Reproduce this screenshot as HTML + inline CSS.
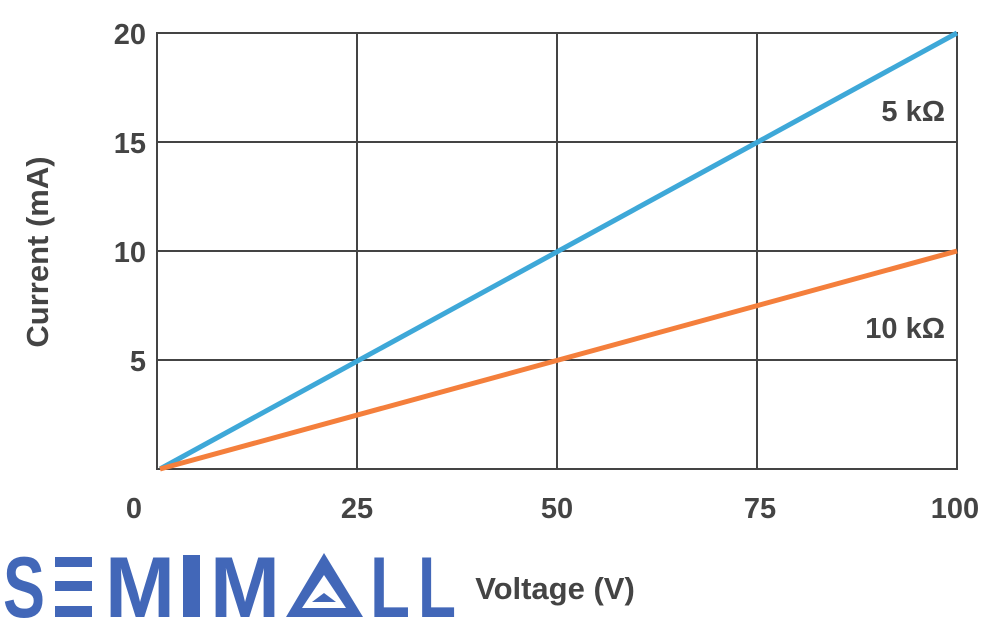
<!DOCTYPE html><html><head><style>body{margin:0;background:#fff}</style></head><body>
<svg width="1000" height="620" xmlns="http://www.w3.org/2000/svg" font-family="Liberation Sans, sans-serif" font-weight="bold">
<g stroke="#444" stroke-width="2" fill="none">
<rect x="157" y="33" width="800" height="436"/>
<line x1="357" y1="33" x2="357" y2="469"/><line x1="557" y1="33" x2="557" y2="469"/><line x1="757" y1="33" x2="757" y2="469"/>
<line x1="157" y1="142" x2="957" y2="142"/><line x1="157" y1="251" x2="957" y2="251"/><line x1="157" y1="360" x2="957" y2="360"/>
</g>
<line x1="160" y1="469" x2="957" y2="33" stroke="#3ea8d8" stroke-width="5"/>
<line x1="160" y1="469" x2="957" y2="251" stroke="#f47f3c" stroke-width="5"/>
<g fill="#444" font-size="29" text-anchor="end">
<text x="146" y="44">20</text><text x="146" y="153">15</text><text x="146" y="262">10</text><text x="146" y="371">5</text>
<text x="945" y="121">5 kΩ</text><text x="945" y="338">10 kΩ</text>
</g>
<g fill="#444" font-size="29" text-anchor="middle">
<text x="134" y="518">0</text><text x="357" y="518">25</text><text x="557" y="518">50</text><text x="760" y="518">75</text><text x="955" y="518">100</text>
<text transform="translate(48,252) rotate(-90)" font-size="31">Current (mA)</text>
<text x="555" y="599" font-size="31">Voltage (V)</text>
</g>
<g fill="#4267b8" font-size="86">
<text x="3" y="617" textLength="42" lengthAdjust="spacingAndGlyphs">S</text>
<rect x="55" y="557" width="37" height="10"/><rect x="55" y="581" width="37" height="10"/><rect x="55" y="606" width="37" height="11"/>
<text x="105" y="617" textLength="70" lengthAdjust="spacingAndGlyphs">M</text>
<rect x="183" y="555" width="17" height="62"/>
<text x="210" y="617" textLength="70" lengthAdjust="spacingAndGlyphs">M</text>
<polygon points="324,553 363,617 286,617" />
<polygon points="324,575 346,608 302,608" fill="#fff"/>
<polygon points="324,593 336,602 312,602" fill="#4267b8"/>
<text x="370" y="617" textLength="40" lengthAdjust="spacingAndGlyphs">L</text>
<text x="418" y="617" textLength="38" lengthAdjust="spacingAndGlyphs">L</text>
</g>
</svg>
</body></html>
